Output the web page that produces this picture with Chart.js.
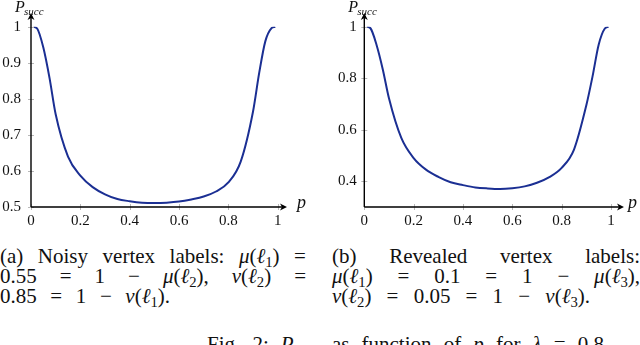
<!DOCTYPE html>
<html>
<head>
<meta charset="utf-8">
<script src="https://cdn.jsdelivr.net/npm/chart.js@4.4.1/dist/chart.umd.min.js"></script>
<style>
  html, body { margin: 0; padding: 0; background: #fff; }
  #wrap { position: relative; width: 640px; height: 345px; overflow: hidden; background: #fff; }
  .plot { position: absolute; top: 0; }
  .cap { position: absolute; font-family: "Liberation Serif", serif; font-size: 21px; line-height: 20px; color: #111; }
  .cap div { white-space: nowrap; display: flex; justify-content: space-between; }
  .cap i { font-style: italic; }
  .cap sub { font-size: 0.7em; vertical-align: -0.25em; line-height: 0; }
</style>
</head>
<body>
<div id="wrap">
  <div class="plot" style="left:0"><canvas id="chartA" width="320" height="230"></canvas></div>
  <div class="plot" style="left:320px"><canvas id="chartB" width="320" height="230"></canvas></div>

  <div class="cap" style="left:0; top:246px; width:306px">
    <div><span>(a)</span><span>Noisy</span><span>vertex</span><span>labels:</span><span><i>μ</i>(<i>ℓ</i><sub>1</sub>)</span><span>=</span></div>
    <div><span>0.55</span><span>=</span><span>1</span><span>−</span><span><i>μ</i>(<i>ℓ</i><sub>2</sub>),</span><span><i>ν</i>(<i>ℓ</i><sub>2</sub>)</span><span>=</span></div>
    <div style="width:170px"><span>0.85</span><span>=</span><span>1</span><span>−</span><span><i>ν</i>(<i>ℓ</i><sub>1</sub>).</span></div>
  </div>
  <div class="cap" style="left:332px; top:246px; width:308px">
    <div><span>(b)</span><span>Revealed</span><span>vertex</span><span>labels:</span></div>
    <div><span><i>μ</i>(<i>ℓ</i><sub>1</sub>)</span><span>=</span><span>0.1</span><span>=</span><span>1</span><span>−</span><span><i>μ</i>(<i>ℓ</i><sub>3</sub>),</span></div>
    <div style="width:258px"><span><i>ν</i>(<i>ℓ</i><sub>2</sub>)</span><span>=</span><span>0.05</span><span>=</span><span>1</span><span>−</span><span><i>ν</i>(<i>ℓ</i><sub>3</sub>).</span></div>
  </div>
  <div class="cap" style="left:207px; top:334px; width:397px">
    <div><span>Fig.</span><span>2:</span><span><i>P</i><sub><i>succ</i></sub></span><span>as</span><span>function</span><span>of</span><span><i>p</i></span><span>for</span><span><i>λ</i></span><span>=</span><span>0.8</span></div>
  </div>
</div>

<script>
// p values (x), shared by both panels
const pValues = [0.01, 0.025, 0.05, 0.075, 0.1, 0.15, 0.2, 0.25, 0.3, 0.35, 0.4, 0.45, 0.5,
                 0.55, 0.6, 0.65, 0.7, 0.75, 0.8, 0.85, 0.9, 0.925, 0.95, 0.975, 0.99];

// (a) noisy vertex labels
const succNoisy = [1.0, 0.995, 0.942, 0.858, 0.757, 0.64, 0.587, 0.555, 0.535, 0.522, 0.516, 0.512, 0.511,
                   0.512, 0.515, 0.521, 0.529, 0.543, 0.568, 0.626, 0.765, 0.872, 0.96, 0.996, 1.0];

// (b) revealed vertex labels
const succRevealed = [1.0, 0.994, 0.928, 0.834, 0.722, 0.568, 0.49, 0.445, 0.417, 0.396, 0.385, 0.376, 0.372,
                      0.370, 0.373, 0.380, 0.394, 0.416, 0.452, 0.523, 0.695, 0.806, 0.93, 0.993, 1.0];

const xTicks = [0, 0.2, 0.4, 0.6, 0.8, 1];
const yTicksA = [0.5, 0.6, 0.7, 0.8, 0.9, 1];
const yTicksB = [0.4, 0.6, 0.8, 1];

const serif = '"Liberation Serif", serif';
const lineColor = '#1b2f93';

const fmt = v => String(+Number(v).toFixed(2));

// axis lines with arrow heads, small tick marks and axis labels (pgfplots look)
const axisArrows = {
    id: 'axisArrows',
    afterDraw(chart, args, opts) {
        const ctx = chart.ctx;
        const a = chart.chartArea;
        const xs = chart.scales.x, ys = chart.scales.y;
        ctx.save();

        // tick marks
        ctx.strokeStyle = '#b8b8b8';
        ctx.lineWidth = 1;
        ctx.beginPath();
        xs.ticks.forEach(t => {
            const px = Math.round(xs.getPixelForValue(t.value)) + 0.5;
            ctx.moveTo(px, a.bottom - 3); ctx.lineTo(px, a.bottom + 3);
        });
        ys.ticks.forEach(t => {
            const py = Math.round(ys.getPixelForValue(t.value)) + 0.5;
            ctx.moveTo(a.left - 3, py); ctx.lineTo(a.left + 3, py);
        });
        ctx.stroke();

        // axes
        ctx.strokeStyle = '#000';
        ctx.fillStyle = '#000';
        ctx.lineWidth = 1.4;
        ctx.beginPath();
        ctx.moveTo(a.left, a.bottom); ctx.lineTo(opts.xTip - 3, a.bottom);
        ctx.moveTo(a.left, a.bottom); ctx.lineTo(a.left, opts.yTip + 3);
        ctx.stroke();

        // arrow heads
        ctx.beginPath();
        ctx.moveTo(opts.xTip, a.bottom);
        ctx.lineTo(opts.xTip - 7, a.bottom - 3.5);
        ctx.lineTo(opts.xTip - 5, a.bottom);
        ctx.lineTo(opts.xTip - 7, a.bottom + 3.5);
        ctx.closePath();
        ctx.fill();
        ctx.beginPath();
        ctx.moveTo(a.left, opts.yTip);
        ctx.lineTo(a.left - 3.5, opts.yTip + 7);
        ctx.lineTo(a.left, opts.yTip + 5);
        ctx.lineTo(a.left + 3.5, opts.yTip + 7);
        ctx.closePath();
        ctx.fill();

        // axis labels
        ctx.fillStyle = '#111';
        ctx.textBaseline = 'alphabetic';
        ctx.textAlign = 'left';
        ctx.font = 'italic 16px ' + serif;
        ctx.fillText('P', a.left - 16, 12);
        ctx.font = 'italic 11px ' + serif;
        ctx.fillText('succ', a.left - 7, 15);
        ctx.font = 'italic 18px ' + serif;
        ctx.fillText('p', opts.pX, a.bottom + 1);
        ctx.restore();
    }
};

function makePanel(canvasId, values, yMin, yTicks, opts) {
    const ctx = document.getElementById(canvasId).getContext('2d');
    return new Chart(ctx, {
        type: 'line',
        data: {
            datasets: [{
                data: pValues.map((p, i) => ({ x: p, y: values[i] })),
                borderColor: lineColor,
                borderWidth: 2,
                pointRadius: 0,
                fill: false,
                cubicInterpolationMode: 'monotone'
            }]
        },
        options: {
            responsive: false,
            animation: false,
            events: [],
            layout: { padding: { left: 0, right: opts.right, top: 26.7, bottom: 0 } },
            plugins: {
                legend: { display: false },
                tooltip: { enabled: false },
                axisArrows: { xTip: opts.xTip, yTip: 13, pX: opts.pX }
            },
            scales: {
                x: {
                    type: 'linear',
                    min: 0, max: 1,
                    afterBuildTicks: s => { s.ticks = xTicks.map(v => ({ value: v })); },
                    afterFit: s => { s.height = 23; },
                    border: { display: false },
                    grid: { display: false, drawTicks: false },
                    ticks: {
                        padding: 5,
                        maxRotation: 0,
                        color: '#111',
                        font: { family: serif, size: 15 },
                        callback: fmt
                    }
                },
                y: {
                    type: 'linear',
                    min: yMin, max: 1,
                    afterBuildTicks: s => { s.ticks = yTicks.map(v => ({ value: v })); },
                    afterFit: s => { s.width = opts.left; },
                    border: { display: false },
                    grid: { display: false, drawTicks: false },
                    ticks: {
                        padding: opts.labelGap,
                        color: '#111',
                        font: { family: serif, size: 15 },
                        callback: fmt
                    }
                }
            }
        },
        plugins: [axisArrows]
    });
}

makePanel('chartA', succNoisy, 0.5, yTicksA, { left: 31, right: 42.3, xTip: 287, pX: 297, labelGap: 10 });
makePanel('chartB', succRevealed, 0.3, yTicksB, { left: 44.3, right: 29, xTip: 304, pX: 308, labelGap: 7.6 });
</script>
</body>
</html>
